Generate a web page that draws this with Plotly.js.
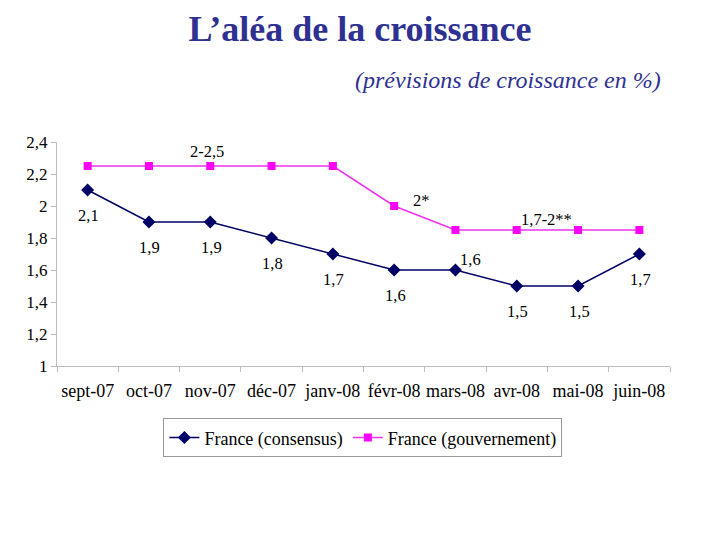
<!DOCTYPE html>
<html><head><meta charset="utf-8">
<script src="https://cdn.plot.ly/plotly-3.0.1.min.js"></script>
<style>html,body{margin:0;padding:0;background:#fff}#c{width:720px;height:540px}</style>
</head><body><div id="c"></div>
<script>
const months = ["sept-07","oct-07","nov-07","déc-07","janv-08","févr-08","mars-08","avr-08","mai-08","juin-08"];
const consensus = [2.1,1.9,1.9,1.8,1.7,1.6,1.6,1.5,1.5,1.7];
const gouvernement = [2.25,2.25,2.25,2.25,2.25,2.0,1.85,1.85,1.85,1.85];
const consensusLabels = ["2,1","1,9","1,9","1,8","1,7","1,6","1,6","1,5","1,5","1,7"];
const govLabels = [{i:2,text:"2-2,5",dx:-3,dy:-15},{i:5,text:"2*",dx:27,dy:-6},{i:7,text:"1,7-2**",dx:30,dy:-11}];

const serif = "'Liberation Serif', 'Times New Roman', serif";
const anns = [];
consensus.forEach((v,i)=>{
  const up = (i===6);
  anns.push({x:months[i], y:v, xref:'x', yref:'y', text:consensusLabels[i], showarrow:false,
    xshift: up?15:1, yshift: up?11:-25, font:{family:serif,size:16.5,color:'#000'}});
});
govLabels.forEach(g=>{
  anns.push({x:months[g.i], y:gouvernement[g.i], xref:'x', yref:'y', text:g.text, showarrow:false,
    xshift:g.dx, yshift:-g.dy, font:{family:serif,size:16.5,color:'#000'}});
});
anns.push({text:"<i>(prévisions de croissance en %)</i>", xref:'paper', yref:'paper', x:0.736, y:1.277,
  showarrow:false, xanchor:'center', yanchor:'middle', font:{family:serif,size:24,color:'#2E3192'}});

const data = [
  {x:months, y:consensus, name:"France (consensus)", type:'scatter', mode:'lines+markers',
   line:{color:'#000066',width:1.5}, marker:{symbol:'diamond',size:10,color:'#000066'}},
  {x:months, y:gouvernement, name:"France (gouvernement)", type:'scatter', mode:'lines+markers',
   line:{color:'#F030F0',width:1.5}, marker:{symbol:'square',size:8,color:'#FF00FF'}}
];
const layout = {
  width:720, height:540, paper_bgcolor:'#fff', plot_bgcolor:'#fff',
  margin:{l:57,r:50,t:142,b:174},
  separators:",.",
  title:{text:"<b>L’aléa de la croissance</b>", x:0.5, xanchor:'center', y:0.948, yanchor:'middle', yref:'container',
    font:{family:serif,size:36,color:'#2E3192'}},
  xaxis:{type:'category', showgrid:false, showline:true, linecolor:'#bdbdbd', linewidth:1,
    ticks:'outside', tickson:'boundaries', ticklen:5, tickcolor:'#bdbdbd', ticklabelstandoff:8, tickangle:0,
    tickfont:{family:serif,size:18,color:'#000'}, zeroline:false, range:[-0.5,9.5]},
  yaxis:{range:[1,2.4], dtick:0.2, tick0:1, showgrid:false, showline:true, linecolor:'#bdbdbd', linewidth:1,
    ticks:'outside', ticklen:5, tickcolor:'#bdbdbd', zeroline:false,
    tickfont:{family:serif,size:17,color:'#000'}},
  showlegend:true,
  legend:{orientation:'h', x:0.499, xanchor:'center', y:-0.321, yanchor:'middle',
    bordercolor:'#999', borderwidth:1, font:{family:serif,size:18,color:'#000'}},
  annotations:anns
};
Plotly.newPlot('c', data, layout, {displayModeBar:false});
</script></body></html>
